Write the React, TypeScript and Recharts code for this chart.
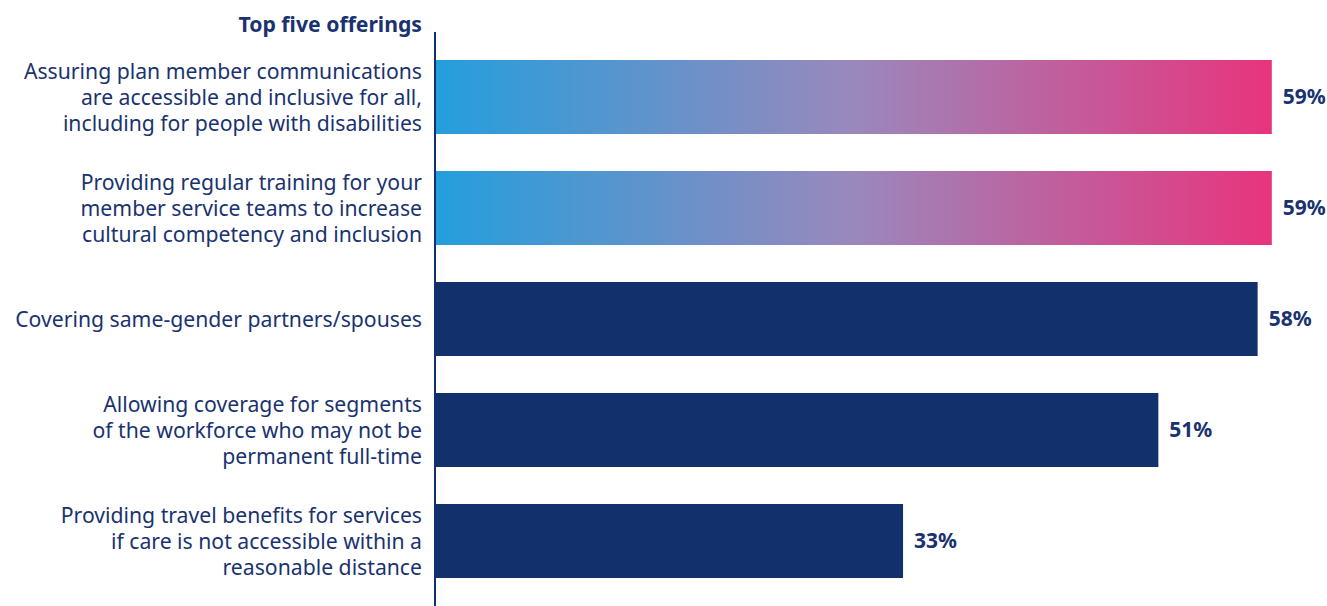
import { BarChart, Bar, XAxis, YAxis, Cell, LabelList } from 'recharts';

const categories = [
  'Assuring plan member communications\nare accessible and inclusive for all,\nincluding for people with disabilities',
  'Providing regular training for your\nmember service teams to increase\ncultural competency and inclusion',
  'Covering same-gender partners/spouses',
  'Allowing coverage for segments\nof the workforce who may not be\npermanent full-time',
  'Providing travel benefits for services\nif care is not accessible within a\nreasonable distance',
];
const values = [59, 59, 58, 51, 33];
const highlighted = [true, true, false, false, false];

const NAVY = '#12306b';
const TEXT = '#1a3370';

const data = categories.map((name, i) => ({ name, value: values[i], hl: highlighted[i] }));

const LabelTick = (props: any) => {
  const { x, y, payload } = props;
  const lines: string[] = String(payload.value).split('\n');
  const lh = 26;
  const start = -((lines.length - 1) / 2) * lh;
  return (
    <text x={x} y={y} textAnchor="end" fill={TEXT} fontSize={21.2} fontFamily="Noto Sans">
      {lines.map((l, i) => (
        <tspan key={i} x={x} dy={i === 0 ? start + 7.5 : lh}>
          {l}
        </tspan>
      ))}
    </text>
  );
};

const App = () => {
  return (
    <div style={{ position: 'relative', width: 1327, height: 606, fontFamily: 'Noto Sans' }}>
      <style>{'body { margin: 0; overflow: hidden; } .recharts-surface { overflow: visible; }'}</style>
      <div
        style={{
          position: 'absolute',
          right: 1327 - 422,
          top: 9,
          fontSize: 21.2,
          fontWeight: 700,
          color: TEXT,
          whiteSpace: 'nowrap',
        }}
      >
        Top five offerings
      </div>
      <BarChart
        width={1327}
        height={606}
        data={data}
        layout="vertical"
        margin={{ top: 32, right: 41, bottom: 0, left: 0 }}
        barCategoryGap={18.5}
      >
        <defs>
          <linearGradient id="hlGrad" x1="0" y1="0" x2="1" y2="0">
            <stop offset="0%" stopColor="#239fdc" />
            <stop offset="50%" stopColor="#9a88bc" />
            <stop offset="100%" stopColor="#e8347d" />
          </linearGradient>
        </defs>
        <XAxis type="number" domain={[0, 60]} hide />
        <YAxis
          type="category"
          dataKey="name"
          width={435}
          axisLine={{ stroke: NAVY, strokeWidth: 2 }}
          tickLine={false}
          tickSize={6}
          tickMargin={7}
          padding={{ top: 9.5, bottom: 9.5 }}
          tick={<LabelTick />}
          interval={0}
        />
        <Bar dataKey="value" isAnimationActive={false}>
          {data.map((d, i) => (
            <Cell key={i} fill={d.hl ? 'url(#hlGrad)' : NAVY} />
          ))}
          <LabelList
            dataKey="value"
            position="right"
            offset={11}
            formatter={(v: any) => `${v}%`}
            style={{ fill: TEXT, fontWeight: 700, fontSize: 21, fontFamily: 'Noto Sans' }}
          />
        </Bar>
      </BarChart>
    </div>
  );
};

export default App;
